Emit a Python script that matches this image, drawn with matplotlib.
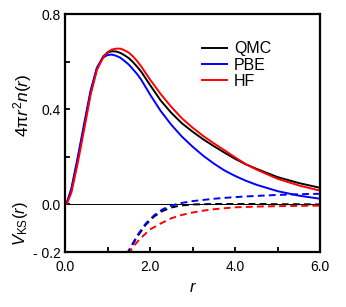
import numpy as np
import matplotlib
matplotlib.use("Agg")
import matplotlib.pyplot as plt

plt.rcParams['font.family'] = ['Liberation Sans', 'DejaVu Sans']
plt.rcParams['mathtext.fontset'] = 'custom'
plt.rcParams['mathtext.rm'] = 'Liberation Sans'
plt.rcParams['mathtext.it'] = 'Liberation Sans:italic'

# ==========================================================
# DATA
# ==========================================================
r_den = [0, 0.05, 0.15, 0.3, 0.45, 0.6, 0.75, 0.9, 1.0, 1.1, 1.2, 1.3, 1.4,
         1.5, 1.6, 1.7, 1.8, 2.0, 2.25, 2.5, 2.75, 3.0, 3.25, 3.5, 3.75,
         4.0, 4.25, 4.5, 5.0, 5.5, 6.0]

den_qmc = [0, 0.010, 0.062, 0.190, 0.330, 0.470, 0.572, 0.623, 0.638, 0.644,
           0.643, 0.637, 0.627, 0.615, 0.598, 0.578, 0.556, 0.502, 0.437,
           0.385, 0.341, 0.306, 0.274, 0.245, 0.218, 0.192, 0.169, 0.150,
           0.115, 0.090, 0.070]

den_pbe = [0, 0.012, 0.068, 0.200, 0.340, 0.478, 0.575, 0.618, 0.628, 0.630,
           0.625, 0.617, 0.603, 0.588, 0.568, 0.547, 0.522, 0.462, 0.393,
           0.335, 0.285, 0.243, 0.205, 0.172, 0.143, 0.120, 0.100, 0.083,
           0.056, 0.037, 0.024]

den_hf = [0, 0.006, 0.050, 0.175, 0.315, 0.460, 0.565, 0.620, 0.640, 0.651,
          0.655, 0.655, 0.648, 0.638, 0.622, 0.602, 0.578, 0.525, 0.464,
          0.410, 0.362, 0.323, 0.288, 0.257, 0.228, 0.198, 0.170, 0.147,
          0.108, 0.080, 0.058]

r_pot = [1.45, 1.55, 1.7, 1.9, 2.1, 2.3, 2.5, 2.7, 3.0, 3.5, 4.0, 4.5, 5.0,
         5.5, 6.0]

vks_qmc = [-0.21, -0.18, -0.135, -0.085, -0.05, -0.027, -0.013, -0.005, 0.0,
           0.002, 0.002, 0.002, 0.001, 0.001, 0.0]

vks_pbe = [-0.21, -0.178, -0.13, -0.08, -0.045, -0.02, -0.005, 0.005, 0.014,
           0.024, 0.031, 0.036, 0.040, 0.043, 0.045]

r_pot_hf = [1.49, 1.6, 1.76, 2.0, 2.25, 2.5, 2.75, 3.0, 3.25, 3.5, 4.0, 4.5,
            5.0, 6.0]

vks_hf = [-0.21, -0.178, -0.145, -0.105, -0.08, -0.058, -0.044, -0.034,
          -0.026, -0.02, -0.012, -0.009, -0.007, -0.005]

labels = ["QMC", "PBE", "HF"]
colors = ["black", "#0000ff", "#ff0000"]

# ==========================================================
# PLOT
# ==========================================================
fig = plt.figure(figsize=(3.46, 3.07), dpi=100)
ax = fig.add_axes([0.188, 0.179, 0.737, 0.775])

ax.axhline(0, color="black", lw=0.7, zorder=1)

dens = [den_qmc, den_pbe, den_hf]
for d, lab, c in zip(dens, labels, colors):
    ax.plot(r_den, d, color=c, lw=1.4, label=lab)

pots = [(r_pot, vks_qmc), (r_pot, vks_pbe), (r_pot_hf, vks_hf)]
for (rr, v), c in zip(pots, colors):
    ax.plot(rr, v, color=c, lw=1.4, linestyle=(0, (3.5, 2.2)))

ax.set_xlim(0, 6)
ax.set_ylim(-0.2, 0.8)

ax.set_xticks([0, 1, 2, 3, 4, 5, 6])
ax.set_xticklabels(["0.0", "", "2.0", "", "4.0", "", "6.0"])
ax.set_yticks([-0.2, 0.0, 0.2, 0.4, 0.6, 0.8])
ax.set_yticklabels(["- 0.2", "0.0", "", "0.4", "", "0.8"])

ax.tick_params(direction="in", length=3.5, width=1.3, labelsize=10)
ax.tick_params(axis="x", pad=6)
ax.tick_params(axis="y", pad=3)

for s in ax.spines.values():
    s.set_linewidth(1.6)

ax.set_xlabel(r"$r$", fontsize=12, labelpad=4)

fig.text(0.064, 0.658, r"$\mathrm{4π}r^2n\mathrm{(}r\mathrm{)}$",
         rotation=90, ha="center", va="center", fontsize=12.5)
fig.text(0.058, 0.27, r"$V_\mathrm{KS}\mathrm{(}r\mathrm{)}$",
         rotation=90, ha="center", va="center", fontsize=12)

ax.legend(loc="upper left", bbox_to_anchor=(0.537, 0.885), frameon=False,
          fontsize=11.5, handlelength=1.55, handletextpad=0.45,
          labelspacing=0.08, borderpad=0, borderaxespad=0)

fig.savefig("out.png", dpi=100)
